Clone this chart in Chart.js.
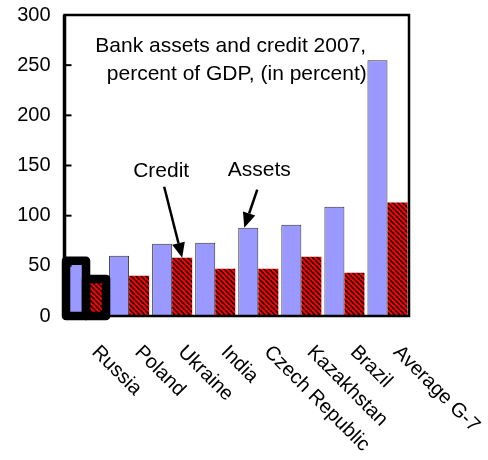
<!DOCTYPE html>
<html lang="en">
<head>
    <meta charset="UTF-8">
    <title>Bank assets and credit 2007</title>
    <script src="https://cdn.jsdelivr.net/npm/chart.js"></script>
    <style>
        html, body { margin: 0; padding: 0; background: #fff; }
        #wrap { width: 488px; height: 460px; }
    </style>
</head>
<body>
    <div id="wrap"><canvas id="bankChart" width="488" height="460"></canvas></div>

    <script>
        const categories = ['Russia', 'Poland', 'Ukraine', 'India', 'Czech Republic', 'Kazakhstan', 'Brazil', 'Average G-7'];
        const assets = [55, 60, 72, 73, 88, 91, 109, 255];
        const credit = [37, 40, 58, 47, 47, 59, 43, 113];
        const yTicks = [0, 50, 100, 150, 200, 250, 300];

        const FONT = '"Liberation Sans", Arial, sans-serif';

        // red fill with black "\" stripes for the credit bars
        function stripePattern() {
            const s = 5;
            const c = document.createElement('canvas');
            c.width = s; c.height = s;
            const g = c.getContext('2d');
            g.fillStyle = '#ff0000';
            g.fillRect(0, 0, s, s);
            g.strokeStyle = '#000';
            g.lineWidth = 1.5;
            for (let k = -1; k <= 1; k++) {
                g.beginPath();
                g.moveTo(k * s, 0);
                g.lineTo(k * s + s, s);
                g.stroke();
            }
            const ctx = document.getElementById('bankChart').getContext('2d');
            return ctx.createPattern(c, 'repeat');
        }

        function arrow(ctx, x1, y1, x2, y2) {
            const ang = Math.atan2(y2 - y1, x2 - x1);
            const len = 15, half = 6.5;
            ctx.save();
            ctx.strokeStyle = '#000';
            ctx.fillStyle = '#000';
            ctx.lineWidth = 2.5;
            ctx.beginPath();
            ctx.moveTo(x1, y1);
            ctx.lineTo(x2 - Math.cos(ang) * len, y2 - Math.sin(ang) * len);
            ctx.stroke();
            ctx.beginPath();
            ctx.moveTo(x2, y2);
            ctx.lineTo(x2 - Math.cos(ang) * len - Math.sin(ang) * half, y2 - Math.sin(ang) * len + Math.cos(ang) * half);
            ctx.lineTo(x2 - Math.cos(ang) * len + Math.sin(ang) * half, y2 - Math.sin(ang) * len - Math.cos(ang) * half);
            ctx.closePath();
            ctx.fill();
            ctx.restore();
        }

        const decorations = {
            id: 'decorations',
            afterDatasetsDraw(chart) {
                const ctx = chart.ctx;
                // heavy outline round the Russia pair
                ctx.save();
                ctx.strokeStyle = '#000';
                ctx.lineWidth = 8.5;
                ctx.lineJoin = 'round';
                [0, 1].forEach(d => {
                    const bar = chart.getDatasetMeta(d).data[0];
                    ctx.strokeRect(bar.x - bar.width / 2, bar.y, bar.width, bar.base - bar.y);
                });
                ctx.restore();
            },
            afterDraw(chart) {
                const ctx = chart.ctx;
                const area = chart.chartArea;
                const xs = chart.scales.x;
                const ys = chart.scales.y;

                // plot frame, heavier on the value axis, with short inward ticks
                ctx.save();
                ctx.strokeStyle = '#000';
                ctx.lineWidth = 2.5;
                ctx.strokeRect(area.left, area.top, area.right - area.left, area.bottom - area.top);
                ctx.lineWidth = 3.5;
                ctx.beginPath();
                ctx.moveTo(area.left, area.top);
                ctx.lineTo(area.left, area.bottom);
                ctx.stroke();
                ctx.lineWidth = 2;
                yTicks.forEach(v => {
                    const y = ys.getPixelForValue(v);
                    ctx.beginPath();
                    ctx.moveTo(area.left, y);
                    ctx.lineTo(area.left + 7, y);
                    ctx.stroke();
                });
                ctx.restore();

                ctx.save();
                ctx.fillStyle = '#000';
                ctx.font = '21px ' + FONT;
                ctx.textBaseline = 'middle';
                ctx.textAlign = 'center';
                const mid = (area.left + area.right) / 2;
                ctx.fillText('Bank assets and credit 2007,', mid - 6, area.top + 31);
                ctx.fillText('percent of GDP, (in percent)', mid, area.top + 59);

                // callouts
                const cBar = chart.getDatasetMeta(1).data[2];
                const aBar = chart.getDatasetMeta(0).data[4];
                ctx.fillText('Credit', cBar.x - 21, cBar.y - 87);
                ctx.fillText('Assets', aBar.x + 11, aBar.y - 58);
                arrow(ctx, cBar.x - 18, cBar.y - 71, cBar.x, cBar.y);
                arrow(ctx, aBar.x + 9, aBar.y - 38, aBar.x - 4, aBar.y);

                // slanted category labels
                ctx.font = '20px ' + FONT;
                ctx.textAlign = 'left';
                ctx.textBaseline = 'top';
                categories.forEach((name, i) => {
                    const x = xs.getPixelForValue(i) + 16;
                    const y = area.bottom + 26;
                    ctx.save();
                    ctx.translate(x, y);
                    ctx.rotate(Math.PI / 4);
                    ctx.fillText(name, 0, 0);
                    ctx.restore();
                });
                ctx.restore();
            }
        };

        new Chart(document.getElementById('bankChart'), {
            type: 'bar',
            data: {
                labels: categories,
                datasets: [
                    {
                        label: 'Assets',
                        data: assets,
                        backgroundColor: '#9999ff',
                        borderColor: '#333333',
                        borderWidth: 1,
                        borderSkipped: 'bottom'
                    },
                    {
                        label: 'Credit',
                        data: credit,
                        backgroundColor: stripePattern(),
                        borderWidth: 0
                    }
                ]
            },
            options: {
                responsive: false,
                animation: false,
                events: [],
                categoryPercentage: 0.93,
                barPercentage: 1.0,
                layout: { padding: { left: 0, right: 79, top: 15, bottom: 144 } },
                plugins: {
                    legend: { display: false },
                    tooltip: { enabled: false }
                },
                scales: {
                    x: { display: false },
                    y: {
                        min: 0,
                        max: 300,
                        afterFit(scale) {
                            scale.width = 64.5;
                            scale.paddingTop = 0;
                            scale.paddingBottom = 0;
                        },
                        afterBuildTicks(scale) { scale.ticks = yTicks.map(v => ({ value: v })); },
                        grid: { display: false, drawTicks: false },
                        border: { display: false },
                        ticks: {
                            color: '#000',
                            padding: 14,
                            font: { family: FONT, size: 20 }
                        }
                    }
                }
            },
            plugins: [decorations]
        });
    </script>
</body>
</html>
